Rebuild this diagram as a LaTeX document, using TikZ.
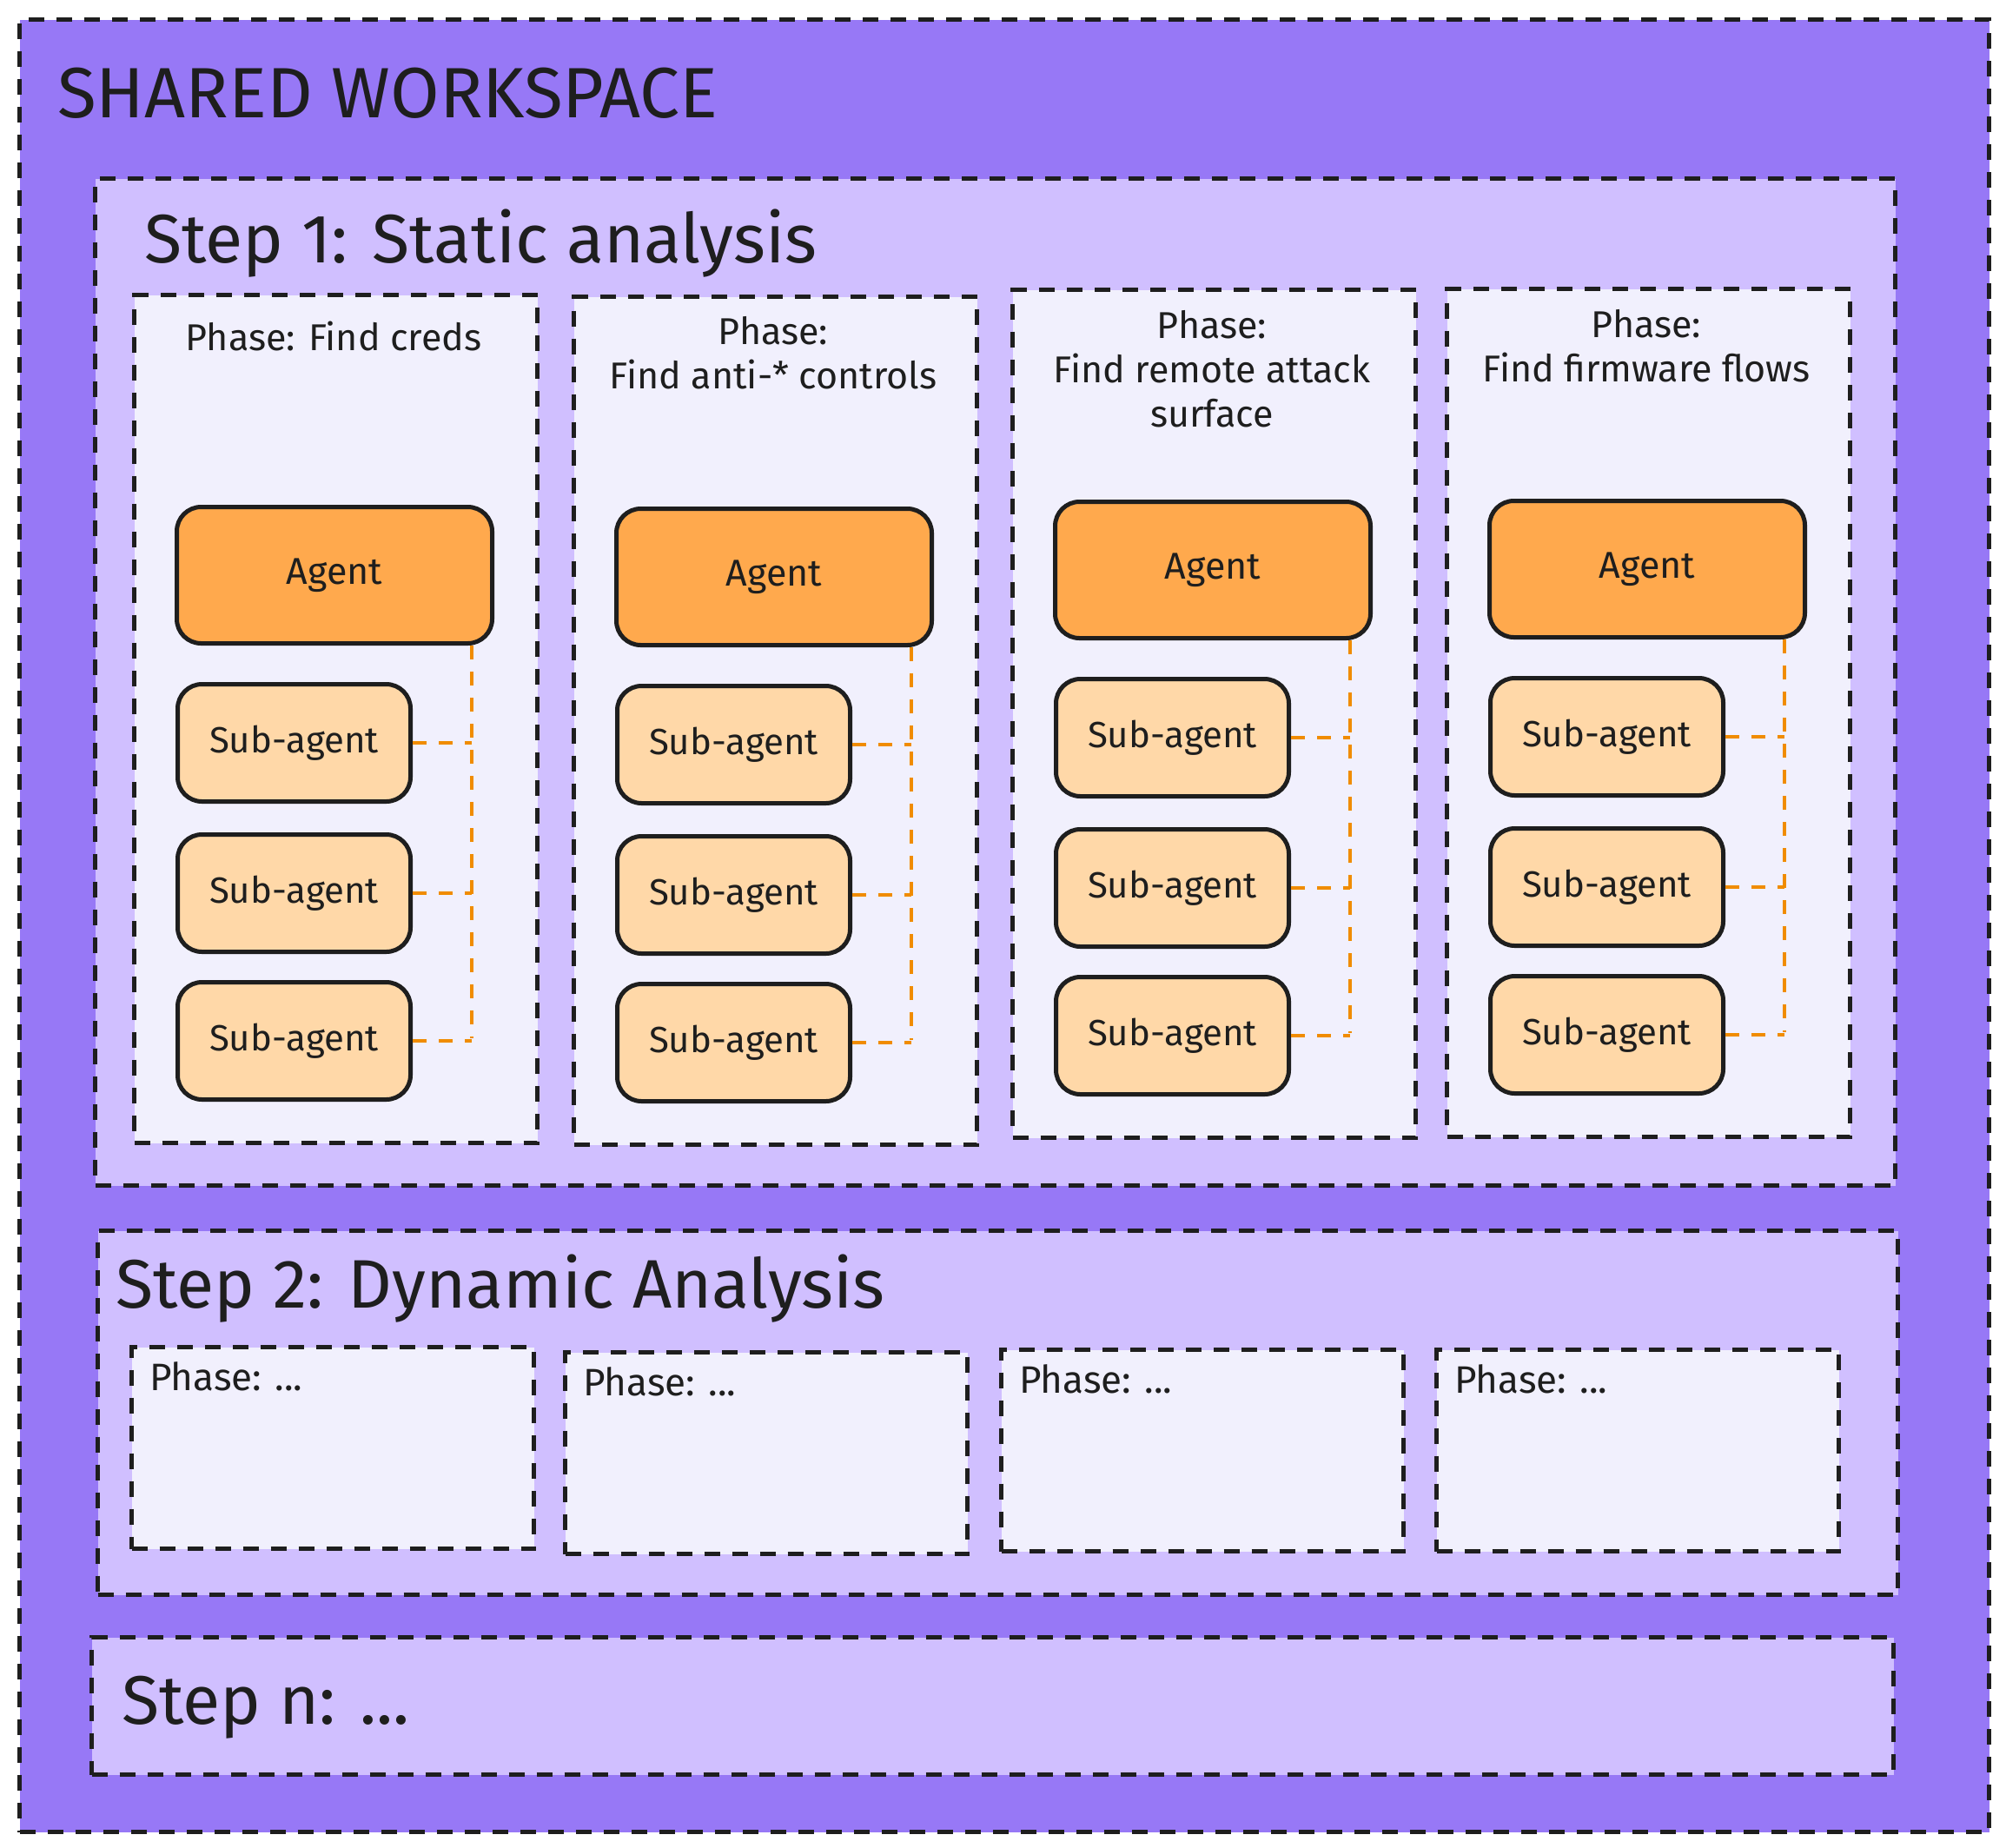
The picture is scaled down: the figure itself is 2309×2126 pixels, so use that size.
\documentclass[tikz,border=0pt]{standalone}
\usepackage{fontspec}
\setmainfont{Fira Sans}
\definecolor{wsviolet}{HTML}{9778F6}
\definecolor{stepviolet}{HTML}{D0BFFF}
\definecolor{phasebg}{HTML}{F1F0FD}
\definecolor{agentorange}{HTML}{FFA94D}
\definecolor{suborange}{HTML}{FFD8A8}
\definecolor{linkorange}{HTML}{F08C00}
\definecolor{inkblack}{HTML}{1E1E1E}
\begin{document}
\begin{tikzpicture}[x=1pt,y=-1pt,
  dashbox/.style={draw=inkblack, line width=5pt, dash pattern=on 18pt off 14pt, inner sep=0pt, anchor=north west},
  workspace/.style={dashbox, fill=wsviolet},
  stepbox/.style={dashbox, fill=stepviolet},
  phasebox/.style={dashbox, fill=phasebg},
  agentbox/.style={draw=inkblack, line width=5pt, rounded corners=28pt, fill=agentorange, anchor=north west, inner sep=0pt,
    minimum width=363pt, minimum height=157pt, font=\fontsize{43}{50}\selectfont, text=inkblack},
  subbox/.style={draw=inkblack, line width=5pt, rounded corners=28pt, fill=suborange, anchor=north west, inner sep=0pt,
    minimum width=268pt, minimum height=135pt, font=\fontsize{42}{50}\selectfont, text=inkblack},
  link/.style={draw=linkorange, line width=4.5pt, dash pattern=on 16pt off 14pt},
  bigtitle/.style={anchor=base west, inner sep=0pt, text=inkblack, font=\fontsize{82}{88}\selectfont},
  steptitle/.style={anchor=base west, inner sep=0pt, text=inkblack, font=\fontsize{79}{86}\selectfont},
  phasetext/.style={anchor=north, inner sep=0pt, align=center, text=inkblack, font=\fontsize{43}{51}\selectfont},
  smallphase/.style={anchor=base west, inner sep=0pt, text=inkblack, font=\fontsize{44}{50}\selectfont}
]
\useasboundingbox (0,0) rectangle (2309,2126);
\fill[white] (0,0) rectangle (2309,2126);

% outer workspace
\node[workspace, minimum width=2267pt, minimum height=2086pt] (ws) at (20,20) {};
\node[bigtitle] (wstitle) at (66,135) {SHARED WORKSPACE};

% step 1
\node[stepbox, minimum width=2072pt, minimum height=1159pt] (step1) at (107,203) {};
\node[steptitle] (step1title) at (166,302) {Step 1: Static analysis};

\foreach \i/\x/\y/\o/\txt in {
  1/152/337/33/{Phase: Find creds},
  2/658/339/25/{Phase:\\Find anti-* controls},
  3/1163/331/26/{Phase:\\Find remote attack\\surface},
  4/1663/330/26/{Phase:\\Find firmware flows}}{
  \node[phasebox, minimum width=464pt, minimum height=976pt] (p\i) at (\x,\y) {};
  \node[phasetext] (pt\i) at (\x+232,\y+\o) {\txt};
  \coordinate (v\i) at (\x+391,\y+858);
  \node[agentbox] (a\i) at (\x+49,\y+244) {Agent};
  \node[subbox] (s\i a) at (\x+50,\y+448) {Sub-agent};
  \node[subbox] (s\i b) at (\x+50,\y+621) {Sub-agent};
  \node[subbox] (s\i c) at (\x+50,\y+791) {Sub-agent};
  \draw[link] (a\i.south -| v\i) -- (v\i);
  \draw[link] (s\i a.east) -- (s\i a.east -| v\i);
  \draw[link] (s\i b.east) -- (s\i b.east -| v\i);
  \draw[link] (s\i c.east) -- (s\i c.east -| v\i);
}

% step 2
\node[stepbox, minimum width=2072pt, minimum height=419pt] (step2) at (110,1414) {};
\node[steptitle] (step2title) at (133,1505) {Step 2: Dynamic Analysis};
\foreach \i/\x/\y in {1/149/1548, 2/648/1554, 3/1150/1551, 4/1651/1551}{
  \node[phasebox, minimum width=463pt, minimum height=232pt] (q\i) at (\x,\y) {};
  \node[smallphase] (qt\i) at (\x+23,\y+52) {Phase: ...};
}

% step n
\node[stepbox, minimum width=2074pt, minimum height=158pt] (stepn) at (103,1882) {};
\node[steptitle] (stepntitle) at (140,1984) {Step n: ...};
\end{tikzpicture}
\end{document}
